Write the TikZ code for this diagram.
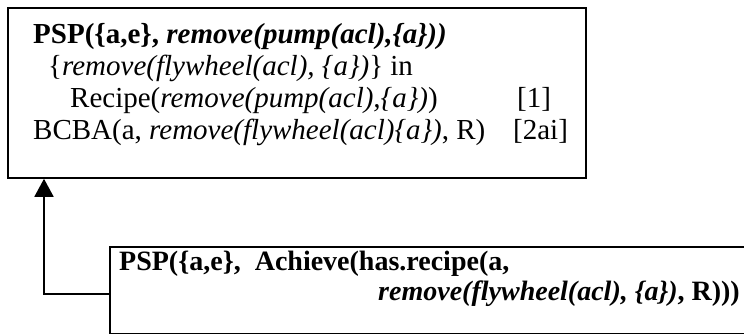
\documentclass[tikz,border=0pt]{standalone}
\usepackage{fontspec}
\setmainfont{Liberation Serif}
\usetikzlibrary{arrows.meta}
\tikzset{
  boxnode/.style={draw=black, line width=1.8pt, inner sep=0pt, anchor=north west},
  txt/.style={anchor=base west, inner sep=0pt, font=\fontsize{29}{33}\selectfont},
  btxt/.style={inner sep=0pt, font=\fontsize{28}{32}\selectfont},
  link/.style={line width=1.8pt, -{Triangle[length=18pt,width=19pt]}}
}
\begin{document}
\begin{tikzpicture}[x=1pt,y=-1pt]
\useasboundingbox (0,0) rectangle (744,333);
% top box
\node[boxnode, minimum width=578pt, minimum height=170pt] (top) at (7,7) {};
\node[txt] (t1) at (33,43) {\textbf{PSP(\{a,e\}, \textit{remove(pump(acl),\{a\}))}}};
\node[txt] (t2) at (48,75) {\{\textit{remove(flywheel(acl), \{a\})}\} in};
\node[txt] (t3) at (70,107) {Recipe(\textit{remove(pump(acl),\{a\})})};
\node[txt] (t3r) at (517,107) {[1]};
\node[txt] (t4) at (33,139) {BCBA(a, \textit{remove(flywheel(acl)\{a\})}, R)};
\node[txt] (t4r) at (513,139) {[2ai]};
% bottom box (its right and lower edges run off the picture)
\node[boxnode, minimum width=660pt, minimum height=86.5pt] (bot) at (109,246) {};
\node[btxt, anchor=base west] (b1) at (119,270) {\textbf{PSP(\{a,e\},\ \ Achieve(has.recipe(a,}};
\node[btxt, anchor=base east] (b2) at (740,300) {\textbf{\textit{remove(flywheel(acl), \{a\})}, R)))}};
% connector
\coordinate (joint) at (44,294);
\draw[link] (bot.west |- joint) -- (joint) -- (top.south -| joint);
\end{tikzpicture}
\end{document}
